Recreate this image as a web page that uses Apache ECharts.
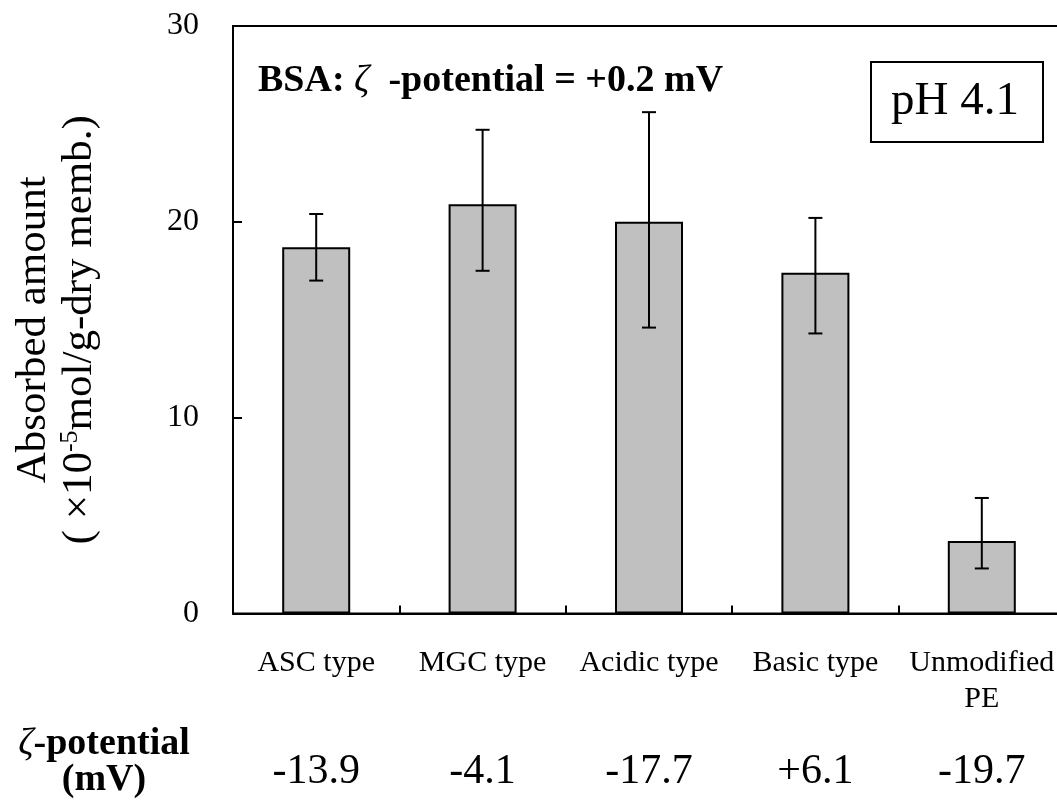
<!DOCTYPE html>
<html>
<head>
<meta charset="utf-8">
<script src="https://cdn.jsdelivr.net/npm/echarts@6/dist/echarts.min.js"></script>
<style>
  html, body { margin: 0; padding: 0; background: #fff; }
  #chart { width: 1057px; height: 807px; }
</style>
</head>
<body>
<div id="chart"></div>
<script>
// Membrane types on the x axis
const categories = ['ASC type', 'MGC type', 'Acidic type', 'Basic type', 'Unmodified\nPE'];
// Adsorbed BSA amount (x10^-5 mol/g-dry memb.)
const amounts = [18.7, 20.9, 20.0, 17.4, 3.7];
// Error bar limits
const errLow = [17.0, 17.5, 14.6, 14.3, 2.3];
const errHigh = [20.4, 24.7, 25.6, 20.2, 5.9];
// Zeta potential of each membrane (mV)
const zetaValues = ['-13.9', '-4.1', '-17.7', '+6.1', '-19.7'];
// Value axis ticks
const yMin = 0, yMax = 30, yStep = 10;

const SERIF = '"Liberation Serif", "Times New Roman", serif';

const chart = echarts.init(document.getElementById('chart'), null, { renderer: 'canvas' });

const errorData = categories.map((c, i) => [i, errLow[i], errHigh[i]]);

const option = {
  backgroundColor: '#fff',
  animation: false,
  grid: {
    left: 233, top: 26, width: 832, height: 587.5,
    outerBoundsMode: 'none',
    containLabel: false,
    show: true, borderColor: '#000', borderWidth: 2, backgroundColor: 'transparent'
  },
  xAxis: [
    {
      type: 'category',
      data: categories,
      axisLine: { show: true, lineStyle: { color: '#000', width: 2 } },
      axisTick: { show: true, inside: true, length: 8, lineStyle: { color: '#000', width: 2 } },
      axisLabel: {
        color: '#000', fontFamily: SERIF, fontSize: 30, lineHeight: 36,
        margin: 32, interval: 0, hideOverlap: false
      },
      splitLine: { show: false }
    },
    {
      type: 'category',
      data: zetaValues,
      position: 'bottom',
      axisLine: { show: false },
      axisTick: { show: false },
      axisLabel: {
        color: '#000', fontFamily: SERIF, fontSize: 42, lineHeight: 44,
        margin: 136, interval: 0, hideOverlap: false
      },
      splitLine: { show: false }
    }
  ],
  yAxis: {
    type: 'value',
    min: yMin, max: yMax, interval: yStep,
    axisLine: { show: true, lineStyle: { color: '#000', width: 2 } },
    axisTick: { show: true, inside: true, length: 9, lineStyle: { color: '#000', width: 2 } },
    axisLabel: { color: '#000', fontFamily: SERIF, fontSize: 32, margin: 34 },
    splitLine: { show: false },
    name: '{a|Absorbed amount}\n{a|( ×10}{s|-5}{a|mol/g-dry memb.)}',
    nameLocation: 'middle',
    nameRotate: 90,
    nameGap: 130,
    nameTextStyle: {
      color: '#000', fontFamily: SERIF, fontSize: 43, lineHeight: 46,
      padding: [0, 20, 0, 0],
      rich: {
        a: { fontFamily: SERIF, fontSize: 43, lineHeight: 46, color: '#000' },
        s: { fontFamily: SERIF, fontSize: 26, lineHeight: 46, color: '#000', verticalAlign: 'top', padding: [0, 0, 14, 0] }
      }
    }
  },
  series: [
    {
      type: 'bar',
      data: amounts,
      barWidth: 68,
      itemStyle: { color: '#c0c0c0', borderColor: '#000', borderWidth: 2 },
      z: 2
    },
    {
      type: 'custom',
      data: errorData,
      z: 5,
      renderItem: function (params, api) {
        const x = api.value(0);
        const lo = api.coord([x, api.value(1)]);
        const hi = api.coord([x, api.value(2)]);
        const cap = 7;
        const style = { stroke: '#000', lineWidth: 2 };
        return {
          type: 'group',
          children: [
            { type: 'line', shape: { x1: lo[0], y1: lo[1], x2: hi[0], y2: hi[1] }, style: style },
            { type: 'line', shape: { x1: hi[0] - cap, y1: hi[1], x2: hi[0] + cap, y2: hi[1] }, style: style },
            { type: 'line', shape: { x1: lo[0] - cap, y1: lo[1], x2: lo[0] + cap, y2: lo[1] }, style: style }
          ]
        };
      }
    }
  ],
  graphic: [
    {
      type: 'text',
      left: 258, top: 62,
      style: {
        text: '{b|BSA: }{z|ζ}{b|  -potential = +0.2 mV}',
        rich: {
          b: { fontFamily: SERIF, fontSize: 38, fontWeight: 'bold', fill: '#000' },
          z: { fontFamily: SERIF, fontSize: 38, fontStyle: 'italic', fill: '#000' }
        }
      }
    },
    {
      type: 'rect',
      shape: { x: 871, y: 62, width: 172, height: 80 },
      style: { fill: '#fff', stroke: '#000', lineWidth: 2 }
    },
    {
      type: 'text',
      x: 955, y: 102,
      style: {
        text: 'pH 4.1', fontFamily: SERIF, fontSize: 47, fill: '#000',
        textAlign: 'center', textVerticalAlign: 'middle'
      }
    },
    {
      type: 'text',
      x: 104, y: 762,
      style: {
        text: '{z|ζ}{b|-potential}\n{b|(mV)}',
        textAlign: 'center', textVerticalAlign: 'middle',
        rich: {
          b: { fontFamily: SERIF, fontSize: 38, fontWeight: 'bold', fill: '#000', lineHeight: 36, align: 'center' },
          z: { fontFamily: SERIF, fontSize: 38, fontStyle: 'italic', fill: '#000', lineHeight: 36 }
        }
      }
    }
  ]
};

chart.setOption(option);
</script>
</body>
</html>
